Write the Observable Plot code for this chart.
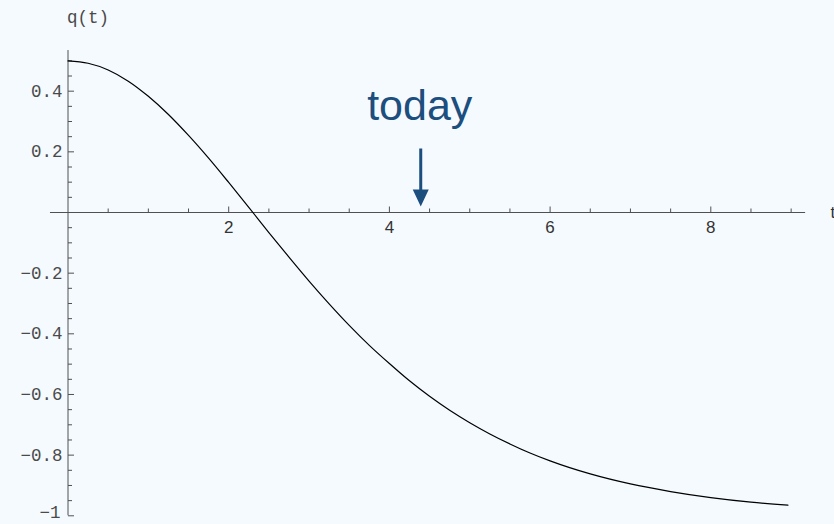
<!DOCTYPE html>
<html>
<head>
<meta charset="utf-8">
<script src="https://cdn.jsdelivr.net/npm/d3@7"></script>
<script src="https://cdn.jsdelivr.net/npm/@observablehq/plot@0.6"></script>
<style>
  html, body { margin: 0; padding: 0; background: #f5faff; }
  #chart svg { display: block; background: #f5faff; }
  g[aria-label="mono-labels"] text { letter-spacing: 1.5px; }
</style>
</head>
<body>
<div id="chart"></div>
<script>
// Deceleration parameter q(t) against cosmic time t
const tValues = [0, 0.25, 0.5, 0.75, 1, 1.25, 1.5, 1.75, 2, 2.25, 2.5, 2.75, 3, 3.25, 3.5, 3.75,
                 4, 4.25, 4.5, 4.75, 5, 5.25, 5.5, 5.75, 6, 6.5, 7, 7.5, 8, 8.5, 8.96];
const qValues = [0.5, 0.492, 0.47, 0.433, 0.383, 0.323, 0.254, 0.179, 0.099, 0.017, -0.066, -0.147,
                 -0.226, -0.301, -0.372, -0.438, -0.498, -0.555, -0.606, -0.652, -0.693, -0.73,
                 -0.763, -0.793, -0.819, -0.862, -0.895, -0.92, -0.94, -0.955, -0.965];

// Axis ticks and labels
const xTickValues = [2, 4, 6, 8];
const xTickLabels = ["2", "4", "6", "8"];
const yTickValues = [0.4, 0.2, -0.2, -0.4, -0.6, -0.8];
const yTickLabels = ["0.4", "0.2", "\u22120.2", "\u22120.4", "\u22120.6", "\u22120.8"];
const yBottomTick = -1;
const yBottomLabel = "\u22121";
const xMinorTicks = d3.range(1, 19).map(i => i / 2).filter(v => !xTickValues.includes(v));
const yMinorTicks = d3.range(-19, 11).map(i => i / 20)
  .filter(v => v !== 0 && !yTickValues.some(w => Math.abs(w - v) < 1e-9));

// Present epoch marked with an arrow
const today = 4.39;
const todayLabel = "today";

const curve = tValues.map((t, i) => ({t, q: qValues[i]}));

const axisColor = "#505050";
const labelColor = "#333";
const monoColor = "#4a4a4a";
const accent = "#1c4e7e";
const mono = "'Liberation Mono', 'Courier New', monospace";
const sans = "'Liberation Sans', Arial, Helvetica, sans-serif";

// tick glyphs drawn from the anchor point: up (x axis) or right (y axis)
const tickUp = len => ({draw(ctx) { ctx.moveTo(0, 0); ctx.lineTo(0, -len); }});
const tickRight = len => ({draw(ctx) { ctx.moveTo(0, 0); ctx.lineTo(len, 0); }});
// downward arrow with a filled head, tip at the anchor point
const downArrow = {
  draw(ctx) {
    const L = 58, h = 17, w = 8, s = 1.5;
    ctx.moveTo(-s, -L);
    ctx.lineTo(s, -L);
    ctx.lineTo(s, -h);
    ctx.lineTo(w, -h);
    ctx.lineTo(0, 0);
    ctx.lineTo(-w, -h);
    ctx.lineTo(-s, -h);
    ctx.closePath();
  }
};

const chart = Plot.plot({
  width: 834,
  height: 524,
  marginLeft: 67.5,
  marginRight: 43.35,
  marginTop: 60.35,
  marginBottom: 8.7,
  style: {background: "#f5faff", overflow: "visible"},
  x: {axis: null, domain: [0, 9]},
  y: {axis: null, domain: [-1, 0.5]},
  marks: [
    // axes crossing at the origin
    Plot.ruleY([0], {x1: -0.218, x2: 9.18, stroke: axisColor, strokeWidth: 1}),
    Plot.ruleX([0], {y1: -1, y2: 0.534, stroke: axisColor, strokeWidth: 1}),
    Plot.dot(xMinorTicks, {x: d => d, y: () => 0, symbol: tickUp(4), fill: "none", stroke: axisColor, strokeWidth: 1}),
    Plot.dot(xTickValues, {x: d => d, y: () => 0, symbol: tickUp(6), fill: "none", stroke: axisColor, strokeWidth: 1}),
    Plot.dot(yMinorTicks, {x: () => 0, y: d => d, symbol: tickRight(4), fill: "none", stroke: axisColor, strokeWidth: 1}),
    Plot.dot([...yTickValues, yBottomTick], {x: () => 0, y: d => d, symbol: tickRight(6), fill: "none", stroke: axisColor, strokeWidth: 1}),
    // tick labels
    Plot.text(xTickValues, {x: d => d, y: () => 0, text: (d, i) => xTickLabels[i], dy: 15,
      fontFamily: sans, fontSize: 17, fill: labelColor}),
    Plot.text(yTickValues, {x: () => 0, y: d => d, text: (d, i) => yTickLabels[i], textAnchor: "end", dx: -5.5,
      fontFamily: mono, fontSize: 17.5, fill: monoColor, ariaLabel: "mono-labels"}),
    Plot.text([yBottomTick], {x: () => 0, y: d => d, text: () => yBottomLabel, textAnchor: "end", dx: -7.5, dy: -3,
      fontFamily: mono, fontSize: 17.5, fill: monoColor, ariaLabel: "mono-labels"}),
    // axis titles
    Plot.text(["q(t)"], {frameAnchor: "top-left", text: d => d, dx: -1, dy: -38.35, lineAnchor: "bottom",
      fontFamily: mono, fontSize: 17.5, fill: monoColor, ariaLabel: "mono-labels"}),
    Plot.text(["t"], {x: () => 9.18, y: () => 0, text: d => d, dx: 25, textAnchor: "start",
      fontFamily: sans, fontSize: 17, fill: labelColor}),
    // q(t)
    Plot.line(curve, {x: "t", y: "q", stroke: "#000", strokeWidth: 1.2, curve: "monotone-x"}),
    // today marker
    Plot.dot([today], {x: d => d, y: () => 0, dy: -6, symbol: downArrow, fill: accent, stroke: "none"}),
    Plot.text([today], {x: d => d, y: () => 0, text: () => todayLabel, dx: -1, dy: -92.7, lineAnchor: "bottom",
      fontFamily: sans, fontSize: 43, fill: accent})
  ]
});

document.getElementById("chart").appendChild(chart);
</script>
</body>
</html>
